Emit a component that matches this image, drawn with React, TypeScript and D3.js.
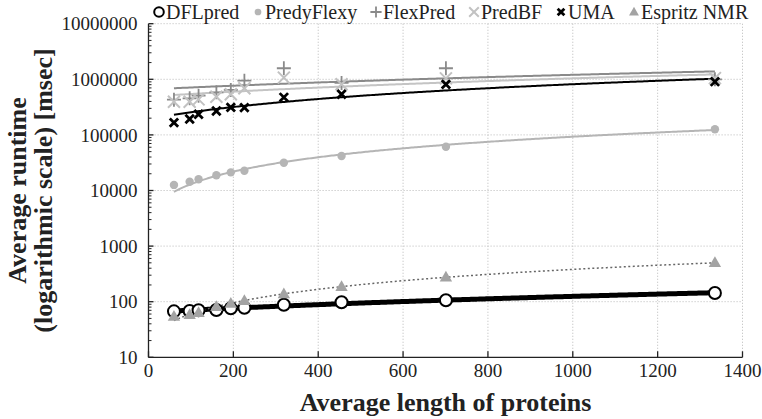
import React from "react";
import * as d3 from "d3";

const lengths = [60, 97, 118, 160, 194, 226, 319, 455, 701, 1335];
const dflpred = [67, 68, 70, 71, 76, 78, 88, 98, 106, 143];
const predyFlexy = [12600, 14400, 15900, 18800, 21200, 22700, 31600, 41800, 61400, 126000];
const flexPred = [430000, 455000, 507000, 583000, 643000, 944000, 1580000, 860000, 1580000, 1000000];
const predBF = [395000, 395000, 436000, 487000, 537000, 689000, 1070000, 813000, 1040000, 1050000];
const uma = [166000, 193000, 235000, 269000, 313000, 309000, 474000, 537000, 810000, 906000];
const espritz = [54, 58, 63, 81, 93, 104, 137, 186, 274, 502];

const xTicks = [0, 200, 400, 600, 800, 1000, 1200, 1400];
const yTicks = [10, 100, 1000, 10000, 100000, 1000000, 10000000];

const seriesNames = ["DFLpred", "PredyFlexy", "FlexPred", "PredBF", "UMA", "Espritz NMR"];
const seriesValues = [dflpred, predyFlexy, flexPred, predBF, uma, espritz];

type Style = {
  marker: string;
  color: string;
  lineColor: string;
  lineWidth: number;
  dash?: string;
};
const styles: Style[] = [
  { marker: "circleOpen", color: "#000", lineColor: "#000", lineWidth: 5 },
  { marker: "dot", color: "#b5b5b5", lineColor: "#b5b5b5", lineWidth: 2 },
  { marker: "plus", color: "#8a8a8a", lineColor: "#8a8a8a", lineWidth: 2 },
  { marker: "cross", color: "#c2c2c2", lineColor: "#c4c4c4", lineWidth: 2 },
  { marker: "boldCross", color: "#000", lineColor: "#000", lineWidth: 2 },
  { marker: "triangle", color: "#a3a3a3", lineColor: "#666", lineWidth: 1.5, dash: "2,2.5" },
];

const legendX = [154, 253, 371, 469, 556, 629];

const W = 762;
const H = 419;
const x0 = 148.5;
const x1 = 742.5;
const yTop = 23.7;
const yBot = 357.3;

function regression(xs: number[], ys: number[]) {
  const mx = d3.mean(xs)!;
  const my = d3.mean(ys)!;
  let sxy = 0;
  let sxx = 0;
  xs.forEach((x, i) => {
    sxy += (x - mx) * (ys[i] - my);
    sxx += (x - mx) * (x - mx);
  });
  const slope = sxy / sxx;
  return { slope, intercept: my - slope * mx };
}

function Marker({ type, x, y, color, scale = 1 }: { type: string; x: number; y: number; color: string; scale?: number }) {
  const s = scale;
  switch (type) {
    case "circleOpen":
      return <circle cx={x} cy={y} r={6 * s} fill="#fff" stroke={color} strokeWidth={2} />;
    case "dot":
      return <circle cx={x} cy={y} r={4.2 * s} fill={color} />;
    case "plus": {
      const h = 7 * s;
      return (
        <path d={`M${x - h},${y}H${x + h}M${x},${y - h}V${y + h}`} stroke={color} strokeWidth={1.8} fill="none" />
      );
    }
    case "cross": {
      const h = 6 * s;
      return (
        <path d={`M${x - h},${y - h}L${x + h},${y + h}M${x - h},${y + h}L${x + h},${y - h}`} stroke={color} strokeWidth={2} fill="none" />
      );
    }
    case "boldCross": {
      const h = 4.2 * s;
      return (
        <path d={`M${x - h},${y - h}L${x + h},${y + h}M${x - h},${y + h}L${x + h},${y - h}`} stroke={color} strokeWidth={2.8} fill="none" />
      );
    }
    case "triangle": {
      const r = 6.5 * s;
      return (
        <path d={`M${x},${y - r}L${x + r * 0.95},${y + r * 0.65}L${x - r * 0.95},${y + r * 0.65}Z`} fill={color} />
      );
    }
  }
  return null;
}

export default function App() {
  const xScale = d3.scaleLinear().domain([0, 1400]).range([x0, x1]);
  const yScale = d3.scaleLog().domain([10, 10000000]).range([yBot, yTop]);
  const minorTicks = yScale.ticks().filter((t) => !yTicks.includes(t));

  const xMin = d3.min(lengths)!;
  const xMax = d3.max(lengths)!;
  const samples = d3.range(xMin, xMax, 4).concat([xMax]);
  const line = d3
    .line<[number, number]>()
    .x((d) => xScale(d[0]))
    .y((d) => yScale(d[1]));

  const serif = "'Liberation Serif', 'Times New Roman', serif";

  return (
    <svg width={W} height={H} style={{ position: "absolute", left: 0, top: 0, background: "#fff" }} fontFamily={serif}>
      <rect width={W} height={H} fill="#fff" />
      {/* grid */}
      <g stroke="#c4c4c4" strokeWidth={1} strokeDasharray="1.2,1.8">
        {yTicks.slice(1).map((t) => (
          <line key={"gy" + t} x1={x0} x2={x1} y1={yScale(t)} y2={yScale(t)} />
        ))}
        {xTicks.slice(1).map((t) => (
          <line key={"gx" + t} x1={xScale(t)} x2={xScale(t)} y1={yTop} y2={yBot} />
        ))}
      </g>
      {/* trend lines */}
      {seriesValues.map((vals, i) => {
        const { slope, intercept } = regression(lengths, vals);
        const pts: [number, number][] = samples.map((x) => [x, slope * x + intercept]);
        const st = styles[i];
        return (
          <path
            key={"tl" + i}
            d={line(pts) || ""}
            fill="none"
            stroke={st.lineColor}
            strokeWidth={st.lineWidth}
            strokeDasharray={st.dash}
          />
        );
      })}
      {/* markers */}
      {seriesValues.map((vals, i) => (
        <g key={"m" + i}>
          {vals.map((v, j) => (
            <Marker key={j} type={styles[i].marker} x={xScale(lengths[j])} y={yScale(v)} color={styles[i].color} />
          ))}
        </g>
      ))}
      {/* axes */}
      <g stroke="#222" strokeWidth={1.3} fill="none">
        <line x1={x0} x2={x0} y1={yTop} y2={yBot} />
        <line x1={x0} x2={x1} y1={yBot} y2={yBot} />
        {yTicks.map((t) => (
          <line key={"yt" + t} x1={x0} x2={x0 + 5} y1={yScale(t)} y2={yScale(t)} />
        ))}
        {minorTicks.map((t) => (
          <line key={"ym" + t} x1={x0} x2={x0 + 3} y1={yScale(t)} y2={yScale(t)} strokeWidth={1} />
        ))}
        {xTicks.map((t) => (
          <line key={"xt" + t} x1={xScale(t)} x2={xScale(t)} y1={yBot} y2={yBot - 6} />
        ))}
      </g>
      {/* tick labels */}
      <g fontSize={19} fill="#222">
        {yTicks.map((t) => (
          <text key={"yl" + t} x={x0 - 11} y={yScale(t)} dy="0.35em" textAnchor="end">
            {String(t)}
          </text>
        ))}
        {xTicks.map((t) => (
          <text key={"xl" + t} x={xScale(t)} y={377} textAnchor="middle">
            {String(t)}
          </text>
        ))}
      </g>
      {/* axis titles */}
      <text x={(x0 + x1) / 2} y={411} textAnchor="middle" fontSize={26} fontWeight="bold" fill="#222">
        Average length of proteins
      </text>
      <g transform={`translate(26,${(yTop + yBot) / 2}) rotate(-90)`}>
        <text x={0} y={0} textAnchor="middle" fontSize={26} fontWeight="bold" fill="#222">
          Average runtime
        </text>
        <text x={0} y={26} textAnchor="middle" fontSize={26} fontWeight="bold" fill="#222">
          (logarithmic scale) [msec]
        </text>
      </g>
      {/* legend */}
      {seriesNames.map((name, i) => (
        <g key={"lg" + i}>
          <Marker type={styles[i].marker} x={legendX[i] + 5} y={12} color={styles[i].color} scale={0.8} />
          <text x={legendX[i] + 12} y={19} fontSize={20} fill="#222">
            {name}
          </text>
        </g>
      ))}
    </svg>
  );
}
